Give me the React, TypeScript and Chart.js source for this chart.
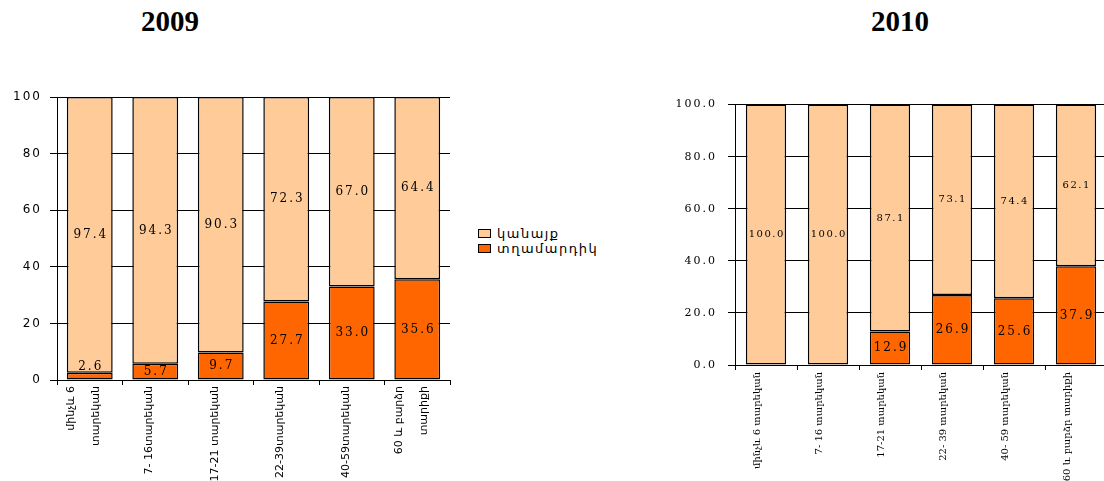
import React, { useEffect, useRef } from "react";
import { Chart, registerables } from "chart.js";
Chart.register(...registerables);

// ---- data ----
const seriesNames = ["կանայք", "տղամարդիկ"];
const seriesColors = ["#FFCC99", "#FF6600"];

const categories2009: (string | string[])[] = [
  ["մինչև 6", "տարեկան"],
  "7- 16տարեկան",
  "17-21 տարեկան",
  "22-39տարեկան",
  "40-59տարեկան",
  ["60 և բարձր", "տարիքի"],
];
const women2009 = [97.4, 94.3, 90.3, 72.3, 67.0, 64.4];
const men2009 = [2.6, 5.7, 9.7, 27.7, 33.0, 35.6];

const categories2010: (string | string[])[] = [
  "մինչև 6 տարեկան",
  "7- 16 տարեկան",
  "17-21 տարեկան",
  "22- 39 տարեկան",
  "40- 59 տարեկան",
  "60 և բարձր տարիքի",
];
const women2010 = [100.0, 100.0, 87.1, 73.1, 74.4, 62.1];
const men2010 = [0, 0, 12.9, 26.9, 25.6, 37.9];

const yTickValues = [0, 20, 40, 60, 80, 100];
const titles = ["2009", "2010"];

// ---- plugin drawing the values inside the segments ----
const valuePlugin = {
  id: "segValues",
  afterDatasetsDraw(chart: any, _args: any, opts: any) {
    const ctx = chart.ctx;
    chart.data.datasets.forEach((ds: any, di: number) => {
      const meta = chart.getDatasetMeta(di);
      const f = opts.fonts[di];
      meta.data.forEach((el: any, i: number) => {
        const v = ds.data[i];
        if (!v) return;
        const p = el.getProps(["x", "y", "base"], true);
        let ly = (p.y + p.base) / 2;
        if (Math.abs(p.base - p.y) < 10) ly = Math.max(p.y, p.base) - 13;
        ctx.save();
        ctx.letterSpacing = f.ls + "px";
        ctx.font = `${f.size}px ${f.family}`;
        ctx.fillStyle = "#000";
        ctx.textAlign = "center";
        ctx.textBaseline = "middle";
        ctx.fillText(v.toFixed(1), p.x + f.ls / 2, ly);
        ctx.restore();
      });
    });
  },
};

// ---- plugin drawing the rotated category labels (multi-line centred on the tick) ----
const xLabelPlugin = {
  id: "xLabels",
  afterDraw(chart: any, _args: any, opts: any) {
    const s = chart.scales.x;
    const ctx = chart.ctx;
    (chart.data.labels as any[]).forEach((lab, i) => {
      const lines: string[] = Array.isArray(lab) ? lab : [lab];
      const px = s.getPixelForTick(i) + opts.offset;
      const n = lines.length;
      lines.forEach((ln, j) => {
        const dx = (j - (n - 1) / 2) * opts.gap;
        ctx.save();
        ctx.translate(px + dx, s.top + opts.pad);
        ctx.rotate(-Math.PI / 2);
        ctx.letterSpacing = opts.ls + "px";
        ctx.font = opts.font;
        ctx.textAlign = "right";
        ctx.textBaseline = "middle";
        ctx.fillStyle = "#000";
        ctx.fillText(ln, 0, 0);
        ctx.restore();
      });
    });
  },
};

type Cfg = {
  labels: (string | string[])[];
  women: number[];
  men: number[];
  decimals: number;
  yFont: any;
  yLS: number;
  xLabel: any;
  yWidth: number;
  xHeight: number;
  padTop: number;
  padRight: number;
  barPct: number;
  yPad: number;
  fonts: any[];
};

function buildConfig(c: Cfg): any {
  return {
    type: "bar",
    data: {
      labels: c.labels,
      datasets: [
        {
          label: seriesNames[1],
          data: c.men,
          backgroundColor: seriesColors[1],
          borderColor: "#000",
          borderWidth: 1.5,
          borderSkipped: false,
        },
        {
          label: seriesNames[0],
          data: c.women,
          backgroundColor: seriesColors[0],
          borderColor: "#000",
          borderWidth: 1.5,
          borderSkipped: false,
        },
      ],
    },
    options: {
      responsive: false,
      animation: false,
      layout: { padding: { top: c.padTop, right: c.padRight, left: 0, bottom: 0 } },
      datasets: { bar: { categoryPercentage: 1, barPercentage: c.barPct } },
      plugins: {
        legend: { display: false },
        tooltip: { enabled: false },
        title: { display: false },
        segValues: { fonts: c.fonts },
        xLabels: c.xLabel,
      },
      scales: {
        x: {
          stacked: true,
          offset: true,
          grid: {
            display: true,
            drawOnChartArea: false,
            drawTicks: true,
            tickLength: 5,
            color: "#000",
            offset: true,
          },
          border: { display: true, color: "#000" },
          ticks: { display: false },
          afterFit: (s: any) => {
            s.height = c.xHeight;
          },
        },
        y: {
          stacked: true,
          min: 0,
          max: 100,
          grid: { color: "#000", tickLength: 7, lineWidth: 1 },
          border: { display: true, color: "#000" },
          afterBuildTicks: (s: any) => {
            s.ticks = yTickValues.map((v) => ({ value: v }));
          },
          ticks: {
            padding: c.yPad,
            color: "#000",
            callback: (v: any) => Number(v).toFixed(c.decimals),
            font: (ctx: any) => {
              ctx.chart.ctx.letterSpacing = c.yLS + "px";
              return c.yFont;
            },
          },
          afterFit: (s: any) => {
            s.width = c.yWidth;
          },
        },
      },
    },
    plugins: [valuePlugin, xLabelPlugin],
  };
}

const cfg2009: Cfg = {
  labels: categories2009,
  women: women2009,
  men: men2009,
  decimals: 0,
  yFont: { family: "'DejaVu Sans', sans-serif", size: 12 },
  yLS: 2,
  xLabel: { font: "11px 'DejaVu Sans', sans-serif", ls: 0, offset: -6, gap: 25, pad: 6 },
  yWidth: 57,
  xHeight: 101,
  padTop: 17,
  padRight: 20,
  barPct: 0.7,
  yPad: 8,
  fonts: [
    { family: "'DejaVu Serif', serif", size: 12, ls: 2 },
    { family: "'DejaVu Serif', serif", size: 12, ls: 2 },
  ],
};

const cfg2010: Cfg = {
  labels: categories2010,
  women: women2010,
  men: men2010,
  decimals: 1,
  yFont: { family: "'DejaVu Serif', serif", size: 11 },
  yLS: 2,
  xLabel: { font: "10px 'DejaVu Serif', serif", ls: 0, offset: -9, gap: 25, pad: 7 },
  yWidth: 85,
  xHeight: 116,
  padTop: 10,
  padRight: 13,
  barPct: 0.65,
  yPad: 11,
  fonts: [
    { family: "'DejaVu Serif', serif", size: 12, ls: 2 },
    { family: "'DejaVu Serif', serif", size: 10, ls: 1.5 },
  ],
};

function BarChart({ cfg, w, h }: { cfg: Cfg; w: number; h: number }) {
  const ref = useRef<HTMLCanvasElement>(null);
  useEffect(() => {
    if (!ref.current) return;
    const chart = new Chart(ref.current, buildConfig(cfg));
    return () => chart.destroy();
  }, [cfg]);
  return <canvas ref={ref} width={w} height={h} style={{ width: w, height: h, display: "block" }} />;
}

export default function App() {
  const titleStyle: React.CSSProperties = {
    position: "absolute",
    top: 6,
    width: 120,
    textAlign: "center",
    font: "bold 29px 'Liberation Serif', serif",
    lineHeight: "30px",
    color: "#000",
  };
  return (
    <div
      style={{
        position: "fixed",
        left: 0,
        top: 0,
        width: 1104,
        height: 481,
        overflow: "hidden",
        background: "#fff",
      }}
    >
      <div style={{ ...titleStyle, left: 110 }}>{titles[0]}</div>
      <div style={{ ...titleStyle, left: 840 }}>{titles[1]}</div>
      <div style={{ position: "absolute", left: 0, top: 80 }}>
        <BarChart cfg={cfg2009} w={470} h={401} />
      </div>
      <div style={{ position: "absolute", left: 650, top: 87 }}>
        <BarChart cfg={cfg2010} w={470} h={394} />
      </div>
      {[0, 1].map((i) => (
        <div
          key={i}
          style={{ position: "absolute", left: 478, top: 226 + i * 15, height: 14, display: "flex", alignItems: "center" }}
        >
          <div
            style={{
              width: 11,
              height: 7,
              background: seriesColors[i],
              border: "1px solid #000",
              marginRight: 6,
            }}
          />
          <span style={{ font: "13px 'DejaVu Sans', sans-serif", letterSpacing: "1.5px", color: "#000" }}>
            {seriesNames[i]}
          </span>
        </div>
      ))}
    </div>
  );
}
